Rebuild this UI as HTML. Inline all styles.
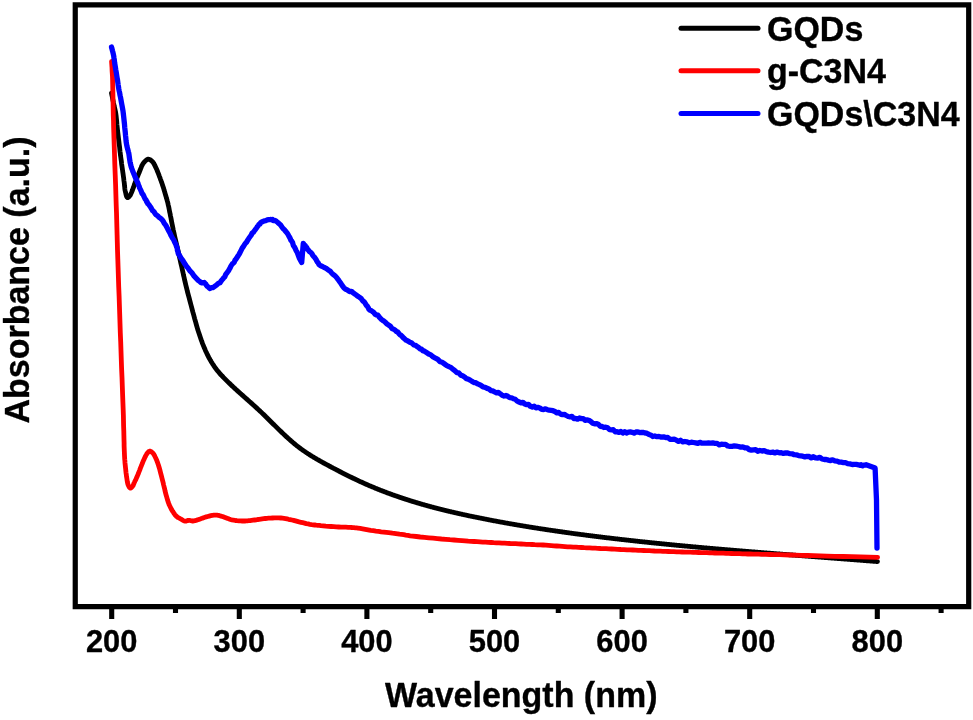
<!DOCTYPE html>
<html><head><meta charset="utf-8"><style>
html,body{margin:0;padding:0;background:#fff;}
body{width:973px;height:720px;overflow:hidden;}
svg{display:block;will-change:transform;}
text{stroke:#000;stroke-width:0.35px;stroke-linejoin:round;font-family:"Liberation Sans",sans-serif;font-weight:bold;}
</style></head><body>
<svg width="973" height="720" viewBox="0 0 973 720">
<rect width="973" height="720" fill="#fff"/>
<g fill="none" stroke-linejoin="round" stroke-linecap="round" stroke-width="4.8">
<polyline stroke="#000" points="111.5,93.0 111.8,94.7 112.2,96.3 112.5,98.0 112.8,99.7 113.2,101.3 113.5,103.0 113.9,104.6 114.2,106.2 114.6,107.8 115.0,109.5 115.4,111.2 115.7,113.0 116.1,115.6 116.4,118.4 116.7,121.3 116.9,124.2 117.2,127.2 117.5,130.0 117.8,132.6 118.1,135.1 118.4,137.6 118.7,140.1 119.0,142.6 119.3,145.0 119.6,147.1 119.8,149.3 120.0,151.3 120.3,153.4 120.5,155.4 120.8,157.5 121.1,159.6 121.4,161.7 121.6,163.8 121.9,165.8 122.2,167.9 122.5,170.0 122.8,172.1 123.1,174.2 123.4,176.4 123.7,178.5 123.9,180.5 124.2,182.5 124.4,184.1 124.5,185.6 124.7,187.1 124.8,188.5 125.0,189.9 125.3,191.3 125.6,192.5 125.9,193.9 126.2,195.2 126.6,196.4 127.0,197.2 127.5,197.6 127.9,197.6 128.3,197.4 128.7,197.0 129.2,196.5 129.6,196.0 130.0,195.5 130.5,194.8 130.9,193.9 131.3,193.0 131.7,192.1 132.1,191.0 132.5,190.0 133.0,188.6 133.6,187.1 134.1,185.5 134.7,183.9 135.2,182.3 135.8,180.8 136.3,179.4 136.9,178.0 137.5,176.6 138.0,175.3 138.6,173.9 139.2,172.5 139.8,170.9 140.4,169.3 141.1,167.6 141.7,166.0 142.5,164.6 143.3,163.3 144.0,162.4 144.9,161.4 145.7,160.6 146.6,159.9 147.5,159.4 148.3,159.2 149.0,159.3 149.8,159.5 150.5,160.0 151.2,160.5 151.9,161.1 152.5,161.7 153.2,162.5 153.7,163.4 154.3,164.3 154.8,165.4 155.3,166.4 155.8,167.5 156.4,168.8 157.0,170.1 157.5,171.5 158.1,172.9 158.7,174.4 159.2,175.8 159.8,177.3 160.3,178.8 160.9,180.3 161.4,181.9 162.0,183.4 162.5,185.0 163.1,186.8 163.7,188.6 164.2,190.5 164.8,192.3 165.3,194.1 165.8,195.8 166.2,197.1 166.5,198.3 166.9,199.5 167.2,200.7 167.6,201.9 167.9,203.3 168.3,205.2 168.8,207.3 169.2,209.4 169.6,211.6 170.1,213.8 170.5,216.0 171.0,218.3 171.4,220.5 171.8,222.8 172.3,225.1 172.8,227.5 173.3,230.0 174.0,233.1 174.7,236.4 175.5,239.8 176.3,243.2 177.1,246.6 177.9,250.0 178.7,253.4 179.4,256.8 180.2,260.2 180.9,263.5 181.7,266.8 182.4,270.0 183.0,272.6 183.5,275.1 184.1,277.5 184.6,279.9 185.2,282.4 185.8,285.0 186.6,288.2 187.4,291.5 188.3,294.8 189.2,298.2 190.1,301.6 191.0,305.0 191.9,308.4 192.8,311.9 193.8,315.4 194.7,318.8 195.6,321.9 196.4,324.9 196.9,326.7 197.4,328.4 197.9,330.0 198.4,331.6 198.9,333.1 199.4,334.6 199.9,336.1 200.4,337.5 200.9,339.0 201.4,340.4 201.9,341.7 202.4,343.1 202.9,344.4 203.4,345.6 203.9,346.8 204.4,348.0 204.9,349.2 205.4,350.4 205.9,351.5 206.4,352.5 206.9,353.6 207.4,354.6 207.9,355.6 208.4,356.6 208.9,357.6 209.4,358.5 209.9,359.4 210.4,360.3 210.9,361.1 211.4,362.0 211.9,362.8 212.4,363.6 212.9,364.3 213.4,365.1 213.9,365.9 214.4,366.6 214.9,367.3 215.4,368.0 215.9,368.6 216.4,369.3 216.9,370.0 217.4,370.6 217.9,371.2 218.4,371.8 218.9,372.4 219.4,373.0 219.9,373.6 220.4,374.2 220.9,374.7 221.4,375.2 221.9,375.8 222.4,376.3 222.9,376.8 223.4,377.4 223.9,377.9 224.4,378.4 224.9,378.9 225.4,379.4 225.9,379.9 226.4,380.4 226.9,380.9 227.4,381.4 227.9,381.9 228.4,382.4 228.9,382.9 229.4,383.3 229.9,383.8 230.4,384.3 230.9,384.8 231.4,385.2 231.9,385.7 232.4,386.2 232.9,386.6 233.4,387.1 233.9,387.6 234.4,388.0 234.9,388.5 235.4,389.0 235.9,389.4 236.4,389.9 236.9,390.3 237.4,390.8 237.9,391.2 238.4,391.7 238.9,392.1 239.4,392.6 239.9,393.0 240.4,393.5 240.9,393.9 241.4,394.4 241.9,394.8 242.4,395.2 242.9,395.7 243.4,396.1 243.9,396.6 244.4,397.0 244.9,397.5 245.4,397.9 245.9,398.4 246.4,398.8 246.9,399.2 247.4,399.7 247.9,400.1 248.4,400.6 248.9,401.0 249.4,401.5 249.9,401.9 250.4,402.3 250.9,402.8 251.4,403.2 251.9,403.7 252.4,404.1 252.9,404.6 253.4,405.0 253.9,405.5 254.4,405.9 254.9,406.4 255.4,406.8 255.9,407.3 256.4,407.7 256.9,408.2 257.4,408.7 257.9,409.1 258.4,409.6 258.9,410.1 259.4,410.5 259.9,411.0 260.4,411.5 260.9,411.9 261.4,412.4 261.9,412.9 262.4,413.4 262.9,413.9 263.4,414.3 263.9,414.8 264.4,415.3 264.9,415.8 265.4,416.3 265.9,416.8 266.4,417.2 266.9,417.7 267.4,418.2 267.9,418.7 268.4,419.2 268.9,419.7 269.4,420.2 269.9,420.7 270.4,421.2 270.9,421.7 271.4,422.2 271.9,422.7 272.4,423.2 272.9,423.7 273.4,424.2 273.9,424.7 274.4,425.1 274.9,425.6 275.4,426.1 275.9,426.6 276.4,427.1 276.9,427.6 277.4,428.1 277.9,428.6 278.4,429.1 278.9,429.6 279.4,430.1 279.9,430.6 280.4,431.0 280.9,431.5 281.4,432.0 281.9,432.5 282.4,433.0 282.9,433.4 283.4,433.9 283.9,434.4 284.4,434.9 284.9,435.3 285.4,435.8 285.9,436.3 286.4,436.7 286.9,437.2 287.4,437.6 287.9,438.1 288.4,438.5 288.9,439.0 289.4,439.4 289.9,439.9 290.4,440.3 290.9,440.8 291.4,441.2 291.9,441.6 292.4,442.1 292.9,442.5 293.4,442.9 293.9,443.3 294.4,443.7 294.9,444.2 295.4,444.6 295.9,445.0 296.4,445.4 296.9,445.8 297.4,446.2 297.9,446.5 298.4,446.9 298.9,447.3 299.4,447.7 299.9,448.1 300.4,448.4 300.9,448.8 301.4,449.2 301.9,449.5 302.4,449.9 302.9,450.3 303.4,450.6 303.9,451.0 304.4,451.3 304.9,451.6 305.4,452.0 305.9,452.3 306.4,452.7 306.9,453.0 307.4,453.3 307.9,453.7 308.4,454.0 308.9,454.3 309.4,454.6 309.9,454.9 310.4,455.3 310.9,455.6 311.4,455.9 311.9,456.2 312.4,456.5 312.9,456.8 313.4,457.1 313.9,457.4 314.4,457.7 314.9,458.0 315.4,458.3 315.9,458.6 316.4,458.9 316.9,459.2 317.4,459.5 317.9,459.8 318.4,460.1 318.9,460.3 319.4,460.6 319.9,460.9 320.4,461.2 320.9,461.5 321.4,461.8 321.9,462.0 322.4,462.3 322.9,462.6 323.4,462.9 323.9,463.1 324.4,463.4 324.9,463.7 325.4,463.9 325.9,464.2 326.4,464.5 326.9,464.8 327.4,465.0 327.9,465.3 328.4,465.6 328.9,465.8 329.4,466.1 329.9,466.4 330.4,466.6 330.9,466.9 331.4,467.2 331.9,467.4 332.4,467.7 332.9,468.0 333.4,468.2 333.9,468.5 334.4,468.8 334.9,469.0 335.4,469.3 335.9,469.5 336.4,469.8 336.9,470.1 337.4,470.3 337.9,470.6 338.4,470.8 338.9,471.1 339.4,471.4 339.9,471.6 340.4,471.9 340.9,472.1 341.4,472.4 341.9,472.7 342.4,472.9 342.9,473.2 343.4,473.4 343.9,473.7 344.4,473.9 344.9,474.2 345.4,474.4 345.9,474.7 346.4,474.9 346.9,475.2 347.4,475.4 347.9,475.7 348.4,475.9 348.9,476.2 349.4,476.4 349.9,476.7 350.4,476.9 350.9,477.1 351.4,477.4 351.9,477.6 352.4,477.9 352.9,478.1 353.4,478.4 353.9,478.6 354.4,478.8 354.9,479.1 355.4,479.3 355.9,479.6 356.4,479.8 356.9,480.0 357.4,480.3 357.9,480.5 358.4,480.7 358.9,481.0 359.4,481.2 359.9,481.4 360.4,481.7 360.9,481.9 361.4,482.1 361.9,482.3 362.4,482.6 362.9,482.8 363.4,483.0 363.9,483.2 364.4,483.5 364.9,483.7 365.4,483.9 365.9,484.1 366.4,484.4 366.9,484.6 367.4,484.8 367.9,485.0 368.4,485.2 368.9,485.4 369.4,485.7 369.9,485.9 370.4,486.1 370.9,486.3 371.4,486.5 371.9,486.7 372.4,486.9 372.9,487.1 373.4,487.3 373.9,487.5 374.4,487.8 374.9,488.0 375.4,488.2 375.9,488.4 376.4,488.6 376.9,488.8 377.4,489.0 377.9,489.2 378.4,489.4 378.9,489.6 379.4,489.8 379.9,490.0 380.4,490.2 380.9,490.4 381.4,490.6 381.9,490.8 382.4,491.0 382.9,491.2 383.4,491.3 383.9,491.5 384.4,491.7 384.9,491.9 385.4,492.1 385.9,492.3 386.4,492.5 386.9,492.7 387.4,492.9 387.9,493.1 388.4,493.2 388.9,493.4 389.4,493.6 389.9,493.8 390.4,494.0 390.9,494.2 391.4,494.3 391.9,494.5 392.4,494.7 392.9,494.9 393.4,495.1 393.9,495.2 394.4,495.4 394.9,495.6 395.4,495.8 395.9,495.9 396.4,496.1 396.9,496.3 397.4,496.5 397.9,496.6 398.4,496.8 398.9,497.0 399.4,497.2 399.9,497.3 400.4,497.5 400.9,497.7 401.4,497.8 401.9,498.0 402.4,498.2 402.9,498.3 403.4,498.5 403.9,498.7 404.4,498.8 404.9,499.0 405.4,499.2 405.9,499.3 406.4,499.5 406.9,499.6 407.4,499.8 407.9,500.0 408.4,500.1 408.9,500.3 409.4,500.4 409.9,500.6 410.4,500.8 410.9,500.9 411.4,501.1 411.9,501.2 412.4,501.4 412.9,501.5 413.4,501.7 413.9,501.8 414.4,502.0 414.9,502.1 415.4,502.3 415.9,502.5 416.4,502.6 416.9,502.7 417.4,502.9 417.9,503.0 418.4,503.2 418.9,503.3 419.4,503.5 419.9,503.6 420.4,503.8 420.9,503.9 421.4,504.1 421.9,504.2 422.4,504.4 422.9,504.5 423.4,504.6 423.9,504.8 424.4,504.9 424.9,505.1 425.4,505.2 425.9,505.3 426.4,505.5 426.9,505.6 427.4,505.8 427.9,505.9 428.4,506.0 428.9,506.2 429.4,506.3 429.9,506.5 430.4,506.6 430.9,506.7 431.4,506.9 431.9,507.0 432.4,507.1 432.9,507.3 433.4,507.4 433.9,507.5 434.4,507.7 434.9,507.8 435.4,507.9 435.9,508.0 436.4,508.2 436.9,508.3 437.4,508.4 437.9,508.6 438.4,508.7 438.9,508.8 439.4,508.9 439.9,509.1 440.4,509.2 440.9,509.3 441.4,509.4 441.9,509.6 442.4,509.7 442.9,509.8 443.4,509.9 443.9,510.1 444.4,510.2 444.9,510.3 445.4,510.4 445.9,510.6 446.4,510.7 446.9,510.8 447.4,510.9 447.9,511.0 448.4,511.2 448.9,511.3 449.4,511.4 449.9,511.5 450.4,511.6 450.9,511.8 451.4,511.9 451.9,512.0 452.4,512.1 452.9,512.2 453.4,512.3 453.9,512.5 454.4,512.6 454.9,512.7 455.4,512.8 455.9,512.9 456.4,513.0 456.9,513.1 457.4,513.2 457.9,513.4 458.4,513.5 458.9,513.6 459.4,513.7 459.9,513.8 460.4,513.9 460.9,514.0 461.4,514.1 461.9,514.3 462.4,514.4 462.9,514.5 463.4,514.6 463.9,514.7 464.4,514.8 464.9,514.9 465.4,515.0 465.9,515.1 466.4,515.2 466.9,515.3 467.4,515.4 467.9,515.6 468.4,515.7 468.9,515.8 469.4,515.9 469.9,516.0 470.4,516.1 470.9,516.2 471.4,516.3 471.9,516.4 472.4,516.5 472.9,516.6 473.4,516.7 473.9,516.8 474.4,516.9 474.9,517.0 475.4,517.1 475.9,517.2 476.4,517.3 476.9,517.4 477.4,517.5 477.9,517.6 478.4,517.7 478.9,517.8 479.4,517.9 479.9,518.0 480.4,518.1 480.9,518.2 481.4,518.3 481.9,518.4 482.4,518.5 482.9,518.6 483.4,518.7 483.9,518.8 484.4,518.9 484.9,519.0 485.4,519.1 485.9,519.2 486.4,519.3 486.9,519.4 487.4,519.5 487.9,519.6 488.4,519.7 488.9,519.8 489.4,519.9 489.9,520.0 490.4,520.1 490.9,520.2 491.4,520.3 491.9,520.4 492.4,520.5 492.9,520.6 493.4,520.7 493.9,520.8 494.4,520.8 494.9,520.9 495.4,521.0 495.9,521.1 496.4,521.2 496.9,521.3 497.4,521.4 497.9,521.5 498.4,521.6 498.9,521.7 499.4,521.8 499.9,521.9 500.4,522.0 500.9,522.1 501.4,522.1 501.9,522.2 502.4,522.3 502.9,522.4 503.4,522.5 503.9,522.6 504.4,522.7 504.9,522.8 505.4,522.9 505.9,523.0 506.4,523.1 506.9,523.1 507.4,523.2 507.9,523.3 508.4,523.4 508.9,523.5 509.4,523.6 509.9,523.7 510.4,523.8 510.9,523.8 511.4,523.9 511.9,524.0 512.4,524.1 512.9,524.2 513.4,524.3 513.9,524.4 514.4,524.5 514.9,524.5 515.4,524.6 515.9,524.7 516.4,524.8 516.9,524.9 517.4,525.0 517.9,525.1 518.4,525.1 518.9,525.2 519.4,525.3 519.9,525.4 520.4,525.5 520.9,525.6 521.4,525.6 521.9,525.7 522.4,525.8 522.9,525.9 523.4,526.0 523.9,526.1 524.4,526.1 524.9,526.2 525.4,526.3 525.9,526.4 526.4,526.5 526.9,526.6 527.4,526.6 527.9,526.7 528.4,526.8 528.9,526.9 529.4,527.0 529.9,527.1 530.4,527.1 530.9,527.2 531.4,527.3 531.9,527.4 532.4,527.5 532.9,527.5 533.4,527.6 533.9,527.7 534.4,527.8 534.9,527.9 535.4,527.9 535.9,528.0 536.4,528.1 536.9,528.2 537.4,528.2 537.9,528.3 538.4,528.4 538.9,528.5 539.4,528.6 539.9,528.6 540.4,528.7 540.9,528.8 541.4,528.9 541.9,528.9 542.4,529.0 542.9,529.1 543.4,529.2 543.9,529.2 544.4,529.3 544.9,529.4 545.4,529.5 545.9,529.5 546.4,529.6 546.9,529.7 547.4,529.8 547.9,529.8 548.4,529.9 548.9,530.0 549.4,530.1 549.9,530.1 550.4,530.2 550.9,530.3 551.4,530.4 551.9,530.4 552.4,530.5 552.9,530.6 553.4,530.7 553.9,530.7 554.4,530.8 554.9,530.9 555.4,531.0 555.9,531.0 556.4,531.1 556.9,531.2 557.4,531.2 557.9,531.3 558.4,531.4 558.9,531.5 559.4,531.5 559.9,531.6 560.4,531.7 560.9,531.7 561.4,531.8 561.9,531.9 562.4,532.0 562.9,532.0 563.4,532.1 563.9,532.2 564.4,532.2 564.9,532.3 565.4,532.4 565.9,532.5 566.4,532.5 566.9,532.6 567.4,532.7 567.9,532.7 568.4,532.8 568.9,532.9 569.4,532.9 569.9,533.0 570.4,533.1 570.9,533.1 571.4,533.2 571.9,533.3 572.4,533.3 572.9,533.4 573.4,533.5 573.9,533.6 574.4,533.6 574.9,533.7 575.4,533.8 575.9,533.8 576.4,533.9 576.9,534.0 577.4,534.0 577.9,534.1 578.4,534.2 578.9,534.2 579.4,534.3 579.9,534.4 580.4,534.4 580.9,534.5 581.4,534.6 581.9,534.6 582.4,534.7 582.9,534.7 583.4,534.8 583.9,534.9 584.4,534.9 584.9,535.0 585.4,535.1 585.9,535.1 586.4,535.2 586.9,535.3 587.4,535.3 587.9,535.4 588.4,535.5 588.9,535.5 589.4,535.6 589.9,535.7 590.4,535.7 590.9,535.8 591.4,535.8 591.9,535.9 592.4,536.0 592.9,536.0 593.4,536.1 593.9,536.2 594.4,536.2 594.9,536.3 595.4,536.4 595.9,536.4 596.4,536.5 596.9,536.5 597.4,536.6 597.9,536.7 598.4,536.7 598.9,536.8 599.4,536.8 599.9,536.9 600.4,537.0 600.9,537.0 601.4,537.1 601.9,537.2 602.4,537.2 602.9,537.3 603.4,537.3 603.9,537.4 604.4,537.5 604.9,537.5 605.4,537.6 605.9,537.6 606.4,537.7 606.9,537.8 607.4,537.8 607.9,537.9 608.4,537.9 608.9,538.0 609.4,538.0 609.9,538.1 610.4,538.2 610.9,538.2 611.4,538.3 611.9,538.4 612.4,538.4 612.9,538.5 613.4,538.5 613.9,538.6 614.4,538.6 614.9,538.7 615.4,538.8 615.9,538.8 616.4,538.9 616.9,538.9 617.4,539.0 617.9,539.0 618.4,539.1 618.9,539.2 619.4,539.2 619.9,539.3 620.4,539.3 620.9,539.4 621.4,539.5 621.9,539.5 622.4,539.6 622.9,539.6 623.4,539.7 623.9,539.7 624.4,539.8 624.9,539.9 625.4,539.9 625.9,540.0 626.4,540.0 626.9,540.1 627.4,540.1 627.9,540.2 628.4,540.2 628.9,540.3 629.4,540.4 629.9,540.4 630.4,540.5 630.9,540.5 631.4,540.6 631.9,540.6 632.4,540.7 632.9,540.7 633.4,540.8 633.9,540.9 634.4,540.9 634.9,541.0 635.4,541.0 635.9,541.1 636.4,541.1 636.9,541.2 637.4,541.2 637.9,541.3 638.4,541.3 638.9,541.4 639.4,541.5 639.9,541.5 640.4,541.6 640.9,541.6 641.4,541.7 641.9,541.7 642.4,541.8 642.9,541.8 643.4,541.9 643.9,541.9 644.4,542.0 644.9,542.0 645.4,542.1 645.9,542.1 646.4,542.2 646.9,542.2 647.4,542.3 647.9,542.4 648.4,542.4 648.9,542.5 649.4,542.5 649.9,542.6 650.4,542.6 650.9,542.7 651.4,542.7 651.9,542.8 652.4,542.8 652.9,542.9 653.4,542.9 653.9,543.0 654.4,543.0 654.9,543.1 655.4,543.1 655.9,543.2 656.4,543.2 656.9,543.3 657.4,543.3 657.9,543.4 658.4,543.4 658.9,543.5 659.4,543.5 659.9,543.6 660.4,543.6 660.9,543.7 661.4,543.7 661.9,543.8 662.4,543.8 662.9,543.9 663.4,543.9 663.9,544.0 664.4,544.0 664.9,544.1 665.4,544.1 665.9,544.2 666.4,544.2 666.9,544.3 667.4,544.3 667.9,544.4 668.4,544.4 668.9,544.5 669.4,544.5 669.9,544.6 670.4,544.6 670.9,544.7 671.4,544.7 671.9,544.8 672.4,544.8 672.9,544.9 673.4,544.9 673.9,545.0 674.4,545.0 674.9,545.1 675.4,545.1 675.9,545.2 676.4,545.2 676.9,545.3 677.4,545.3 677.9,545.4 678.4,545.4 678.9,545.5 679.4,545.5 679.9,545.5 680.4,545.6 680.9,545.6 681.4,545.7 681.9,545.7 682.4,545.8 682.9,545.8 683.4,545.9 683.9,545.9 684.4,546.0 684.9,546.0 685.4,546.1 685.9,546.1 686.4,546.2 686.9,546.2 687.4,546.2 687.9,546.3 688.4,546.3 688.9,546.4 689.4,546.4 689.9,546.5 690.4,546.5 690.9,546.6 691.4,546.6 691.9,546.7 692.4,546.7 692.9,546.8 693.4,546.8 693.9,546.9 694.4,546.9 694.9,546.9 695.4,547.0 695.9,547.0 696.4,547.1 696.9,547.1 697.4,547.2 697.9,547.2 698.4,547.3 698.9,547.3 699.4,547.4 699.9,547.4 700.4,547.4 700.9,547.5 701.4,547.5 701.9,547.6 702.4,547.6 702.9,547.7 703.4,547.7 703.9,547.8 704.4,547.8 704.9,547.8 705.4,547.9 705.9,547.9 706.4,548.0 706.9,548.0 707.4,548.1 707.9,548.1 708.4,548.2 708.9,548.2 709.4,548.2 709.9,548.3 710.4,548.3 710.9,548.4 711.4,548.4 711.9,548.5 712.4,548.5 712.9,548.5 713.4,548.6 713.9,548.6 714.4,548.7 714.9,548.7 715.4,548.8 715.9,548.8 716.4,548.8 716.9,548.9 717.4,548.9 717.9,549.0 718.4,549.0 718.9,549.1 719.4,549.1 719.9,549.1 720.4,549.2 720.9,549.2 721.4,549.3 721.9,549.3 722.4,549.4 722.9,549.4 723.4,549.5 723.9,549.5 724.4,549.5 724.9,549.6 725.4,549.6 725.9,549.7 726.4,549.7 726.9,549.7 727.4,549.8 727.9,549.8 728.4,549.9 728.9,549.9 729.4,550.0 729.9,550.0 730.4,550.0 730.9,550.1 731.4,550.1 731.9,550.2 732.4,550.2 732.9,550.2 733.4,550.3 733.9,550.3 734.4,550.4 734.9,550.4 735.4,550.5 735.9,550.5 736.4,550.5 736.9,550.6 737.4,550.6 737.9,550.7 738.4,550.7 738.9,550.7 739.4,550.8 739.9,550.8 740.4,550.9 740.9,550.9 741.4,551.0 741.9,551.0 742.4,551.0 742.9,551.1 743.4,551.1 743.9,551.2 744.4,551.2 744.9,551.2 745.4,551.3 745.9,551.3 746.4,551.4 746.9,551.4 747.4,551.4 747.9,551.5 748.4,551.5 748.9,551.6 749.4,551.6 749.9,551.7 750.4,551.7 750.9,551.7 751.4,551.8 751.9,551.8 752.4,551.9 752.9,551.9 753.4,551.9 753.9,552.0 754.4,552.0 754.9,552.0 755.4,552.1 755.9,552.1 756.4,552.2 756.9,552.2 757.4,552.2 757.9,552.3 758.4,552.3 758.9,552.4 759.4,552.4 759.9,552.5 760.4,552.5 760.9,552.5 761.4,552.6 761.9,552.6 762.4,552.7 762.9,552.7 763.4,552.7 763.9,552.8 764.4,552.8 764.9,552.9 765.4,552.9 765.9,552.9 766.4,553.0 766.9,553.0 767.4,553.1 767.9,553.1 768.4,553.1 768.9,553.2 769.4,553.2 769.9,553.2 770.4,553.3 770.9,553.3 771.4,553.4 771.9,553.4 772.4,553.4 772.9,553.5 773.4,553.5 773.9,553.6 774.4,553.6 774.9,553.6 775.4,553.7 775.9,553.7 776.4,553.8 776.9,553.8 777.4,553.8 777.9,553.9 778.4,553.9 778.9,553.9 779.4,554.0 779.9,554.0 780.4,554.1 780.9,554.1 781.4,554.1 781.9,554.2 782.4,554.2 782.9,554.3 783.4,554.3 783.9,554.3 784.4,554.4 784.9,554.4 785.4,554.5 785.9,554.5 786.4,554.5 786.9,554.6 787.4,554.6 787.9,554.6 788.4,554.7 788.9,554.7 789.4,554.8 789.9,554.8 790.4,554.8 790.9,554.9 791.4,554.9 791.9,555.0 792.4,555.0 792.9,555.0 793.4,555.1 793.9,555.1 794.4,555.2 794.9,555.2 795.4,555.2 795.9,555.3 796.4,555.3 796.9,555.3 797.4,555.4 797.9,555.4 798.4,555.5 798.9,555.5 799.4,555.5 799.9,555.6 800.4,555.6 800.9,555.7 801.4,555.7 801.9,555.7 802.4,555.8 802.9,555.8 803.4,555.8 803.9,555.9 804.4,555.9 804.9,556.0 805.4,556.0 805.9,556.0 806.4,556.1 806.9,556.1 807.4,556.2 807.9,556.2 808.4,556.2 808.9,556.3 809.4,556.3 809.9,556.3 810.4,556.4 810.9,556.4 811.4,556.5 811.9,556.5 812.4,556.5 812.9,556.6 813.4,556.6 813.9,556.7 814.4,556.7 814.9,556.7 815.4,556.8 815.9,556.8 816.4,556.8 816.9,556.9 817.4,556.9 817.9,557.0 818.4,557.0 818.9,557.0 819.4,557.1 819.9,557.1 820.4,557.1 820.9,557.2 821.4,557.2 821.9,557.3 822.4,557.3 822.9,557.3 823.4,557.4 823.9,557.4 824.4,557.5 824.9,557.5 825.4,557.5 825.9,557.6 826.4,557.6 826.9,557.6 827.4,557.7 827.9,557.7 828.4,557.8 828.9,557.8 829.4,557.8 829.9,557.9 830.4,557.9 830.9,558.0 831.4,558.0 831.9,558.0 832.4,558.1 832.9,558.1 833.4,558.1 833.9,558.2 834.4,558.2 834.9,558.3 835.4,558.3 835.9,558.3 836.4,558.4 836.9,558.4 837.4,558.5 837.9,558.5 838.4,558.5 838.9,558.6 839.4,558.6 839.9,558.6 840.4,558.7 840.9,558.7 841.4,558.8 841.9,558.8 842.4,558.8 842.9,558.9 843.4,558.9 843.9,559.0 844.4,559.0 844.9,559.0 845.4,559.1 845.9,559.1 846.4,559.2 846.9,559.2 847.4,559.2 847.9,559.3 848.4,559.3 848.9,559.3 849.4,559.4 849.9,559.4 850.4,559.5 850.9,559.5 851.4,559.5 851.9,559.6 852.4,559.6 852.9,559.7 853.4,559.7 853.9,559.7 854.4,559.8 854.9,559.8 855.4,559.9 855.9,559.9 856.4,559.9 856.9,560.0 857.4,560.0 857.9,560.0 858.4,560.1 858.9,560.1 859.4,560.2 859.9,560.2 860.4,560.2 860.9,560.3 861.4,560.3 861.9,560.4 862.4,560.4 862.9,560.4 863.4,560.5 863.9,560.5 864.4,560.6 864.9,560.6 865.4,560.6 865.9,560.7 866.4,560.7 866.9,560.8 867.4,560.8 867.9,560.8 868.4,560.9 868.9,560.9 869.4,560.9 869.9,561.0 870.4,561.0 870.9,561.1 871.4,561.1 871.9,561.2 872.4,561.2 872.9,561.2 873.4,561.3 873.9,561.3 874.4,561.4 874.9,561.4 875.6,561.4 876.2,561.5 876.7,561.5 877.1,561.6 877.4,561.6 877.4,561.6 877.4,561.6 877.5,561.6 877.5,561.6 877.5,561.6 877.5,561.6"/>
<polyline stroke="#f00" points="111.6,61.5 111.8,64.5 112.0,67.5 112.1,70.5 112.3,73.5 112.5,76.7 112.6,80.0 112.7,84.6 112.8,89.4 112.9,94.4 113.0,99.6 113.1,104.8 113.2,110.0 113.3,115.6 113.5,121.1 113.6,126.7 113.8,132.5 114.0,138.6 114.2,145.0 114.5,154.2 114.8,164.1 115.2,174.5 115.6,185.0 115.9,195.3 116.2,205.0 116.5,212.8 116.7,220.3 116.9,227.6 117.1,234.9 117.3,242.3 117.5,250.0 117.8,258.8 118.1,267.9 118.4,277.2 118.7,286.5 119.1,295.8 119.4,305.0 119.7,314.2 120.0,323.4 120.3,332.7 120.7,341.9 121.0,351.0 121.3,360.0 121.6,368.6 122.0,377.3 122.3,385.9 122.6,394.4 122.9,402.4 123.2,410.0 123.4,415.6 123.5,420.9 123.6,426.1 123.8,431.0 123.9,435.7 124.0,440.0 124.1,442.9 124.1,445.6 124.2,448.1 124.3,450.6 124.4,452.9 124.5,455.3 124.6,457.3 124.7,459.2 124.9,461.1 125.0,463.0 125.2,464.8 125.4,466.7 125.6,468.6 125.8,470.6 126.0,472.6 126.3,474.6 126.5,476.4 126.8,478.2 127.0,479.5 127.2,480.8 127.4,482.1 127.7,483.3 127.9,484.4 128.3,485.3 128.6,485.9 128.9,486.5 129.2,487.1 129.6,487.5 129.9,487.8 130.3,488.0 130.6,488.0 131.0,487.8 131.4,487.6 131.7,487.2 132.1,486.9 132.4,486.5 132.8,485.9 133.2,485.3 133.5,484.5 133.8,483.8 134.1,483.0 134.5,482.2 134.9,481.3 135.3,480.5 135.8,479.6 136.2,478.6 136.6,477.6 137.1,476.6 137.7,475.1 138.4,473.5 139.0,471.8 139.7,470.1 140.3,468.4 141.0,466.7 141.6,465.1 142.3,463.5 142.9,461.9 143.5,460.4 144.2,458.9 144.8,457.6 145.3,456.7 145.7,455.8 146.1,455.0 146.6,454.2 147.0,453.5 147.5,452.9 147.9,452.5 148.2,452.1 148.6,451.8 148.9,451.5 149.3,451.3 149.7,451.2 150.1,451.2 150.5,451.3 150.9,451.5 151.3,451.8 151.6,452.0 152.0,452.3 152.3,452.6 152.7,452.9 153.0,453.2 153.3,453.6 153.6,454.0 153.9,454.5 154.5,455.5 155.1,456.8 155.8,458.2 156.5,459.7 157.1,461.3 157.7,462.9 158.4,465.0 159.1,467.3 159.8,469.7 160.4,472.1 161.0,474.4 161.6,476.6 162.0,478.3 162.4,479.9 162.8,481.4 163.2,482.9 163.5,484.5 163.9,486.0 164.3,487.6 164.7,489.1 165.0,490.7 165.4,492.3 165.8,493.8 166.2,495.3 166.6,496.7 167.0,498.1 167.4,499.5 167.8,500.8 168.2,502.2 168.7,503.5 169.2,504.8 169.8,506.0 170.4,507.2 171.0,508.4 171.6,509.6 172.3,510.7 172.9,511.7 173.6,512.7 174.2,513.7 174.9,514.7 175.7,515.5 176.4,516.3 177.1,516.8 177.7,517.3 178.4,517.7 179.2,518.1 179.9,518.5 180.6,518.9 181.4,519.3 182.1,519.8 182.9,520.3 183.7,520.7 184.5,521.0 185.2,521.2 185.8,521.2 186.4,521.0 187.0,520.8 187.6,520.6 188.2,520.4 188.8,520.3 189.5,520.3 190.1,520.5 190.8,520.7 191.5,520.8 192.2,521.0 192.9,521.0 193.8,520.9 194.8,520.7 195.9,520.4 196.9,520.1 197.9,519.7 199.0,519.4 200.2,519.0 201.3,518.6 202.5,518.1 203.7,517.7 204.9,517.3 206.2,516.9 207.7,516.5 209.2,516.1 210.8,515.7 212.4,515.4 214.0,515.2 215.5,515.1 216.9,515.2 218.3,515.4 219.6,515.7 221.0,516.1 222.3,516.5 223.7,516.9 225.1,517.4 226.4,517.9 227.7,518.4 229.1,519.0 230.5,519.5 231.9,519.9 233.6,520.2 235.3,520.5 237.0,520.7 238.8,520.8 240.5,520.9 242.2,521.0 243.6,521.0 244.9,521.0 246.1,520.9 247.4,520.8 248.7,520.7 250.0,520.6 251.5,520.4 253.0,520.2 254.6,520.0 256.1,519.8 257.7,519.5 259.2,519.3 260.7,519.1 262.2,518.9 263.8,518.7 265.3,518.5 266.9,518.3 268.5,518.2 270.5,518.1 272.5,518.0 274.7,517.9 276.8,517.9 278.8,517.9 280.8,518.0 282.4,518.2 284.0,518.4 285.5,518.6 287.0,518.9 288.5,519.3 290.1,519.6 291.9,520.0 293.6,520.4 295.5,520.9 297.3,521.4 299.1,521.9 300.9,522.3 302.7,522.7 304.5,523.1 306.3,523.6 308.2,523.9 309.9,524.3 311.7,524.6 313.2,524.8 314.7,525.0 316.2,525.2 317.7,525.3 319.2,525.4 320.9,525.6 323.2,525.8 325.8,526.1 328.4,526.3 331.1,526.5 333.7,526.7 336.3,526.9 338.7,527.0 341.1,527.1 343.5,527.2 345.9,527.2 348.1,527.3 350.2,527.4 351.6,527.5 352.8,527.6 354.0,527.7 355.2,527.8 356.5,527.9 357.9,528.1 360.2,528.4 362.6,528.8 365.3,529.3 368.0,529.8 370.7,530.3 373.3,530.7 375.9,531.1 378.5,531.4 381.2,531.8 383.8,532.1 386.3,532.4 388.7,532.7 390.6,532.9 392.4,533.2 394.2,533.4 395.9,533.6 397.7,533.8 399.5,534.1 401.6,534.4 403.7,534.7 405.8,535.1 407.9,535.4 410.2,535.8 412.7,536.1 416.4,536.5 420.3,537.0 424.5,537.4 428.8,537.8 433.1,538.2 437.3,538.6 441.5,539.0 445.7,539.3 449.9,539.7 454.1,540.0 458.1,540.3 462.0,540.6 465.2,540.8 468.2,541.1 471.2,541.3 474.2,541.5 477.1,541.7 480.0,541.9 482.8,542.1 485.5,542.2 488.2,542.4 491.0,542.5 493.7,542.7 496.4,542.8 499.1,542.9 501.9,543.1 504.6,543.2 507.4,543.3 510.2,543.5 512.9,543.6 515.6,543.7 518.4,543.9 521.1,544.0 523.8,544.1 526.6,544.3 529.3,544.4 532.0,544.5 534.8,544.7 537.6,544.8 540.3,544.9 543.1,545.0 545.8,545.2 548.5,545.4 551.3,545.6 554.0,545.8 556.7,546.0 559.5,546.2 562.2,546.4 564.9,546.6 567.7,546.8 570.4,546.9 573.2,547.1 576.0,547.2 578.7,547.4 581.4,547.5 584.2,547.7 586.9,547.8 589.6,547.9 592.4,548.1 595.1,548.2 597.8,548.3 600.6,548.5 603.3,548.6 606.0,548.7 608.8,548.9 611.6,549.0 614.6,549.1 617.7,549.3 620.8,549.5 623.9,549.6 627.0,549.8 630.0,549.9 632.8,550.0 635.5,550.1 638.3,550.3 641.0,550.4 643.7,550.5 646.4,550.6 649.1,550.7 651.9,550.8 654.6,551.0 657.4,551.1 660.2,551.2 662.9,551.3 665.6,551.4 668.4,551.5 671.1,551.6 673.8,551.7 676.6,551.8 679.3,551.9 682.0,552.0 684.8,552.1 687.5,552.2 690.3,552.2 693.1,552.3 695.8,552.4 698.5,552.5 701.3,552.6 704.0,552.6 706.7,552.7 709.5,552.8 712.2,552.9 714.9,553.0 717.7,553.1 720.5,553.2 723.2,553.2 726.0,553.3 728.7,553.4 731.4,553.5 734.2,553.6 736.9,553.7 739.6,553.7 742.4,553.8 745.1,553.9 747.8,554.0 750.4,554.0 753.1,554.1 755.8,554.2 758.6,554.2 761.6,554.3 765.8,554.4 770.2,554.5 774.8,554.6 779.6,554.7 784.5,554.9 789.5,555.0 795.3,555.2 801.3,555.3 807.5,555.5 813.7,555.7 820.2,555.9 826.8,556.1 834.8,556.3 843.2,556.5 851.7,556.7 860.4,556.9 869.0,557.1 877.6,557.3"/>
<polyline stroke="#00f" stroke-width="5.3" points="111.5,47.0 111.8,48.3 112.2,49.6 112.5,50.9 112.9,52.3 113.2,53.6 113.5,55.0 113.8,56.6 114.0,58.2 114.3,59.8 114.5,61.5 114.7,63.2 115.0,65.0 115.4,67.4 115.8,70.0 116.3,72.7 116.7,75.3 117.1,77.8 117.5,80.0 117.7,81.3 117.8,82.4 118.0,83.5 118.1,84.6 118.3,85.7 118.5,87.0 118.8,88.9 119.2,91.0 119.7,93.2 120.1,95.5 120.6,97.8 121.0,100.0 121.4,102.2 121.8,104.4 122.2,106.5 122.6,108.7 123.0,111.0 123.3,113.3 123.6,116.0 123.9,118.8 124.2,121.6 124.5,124.4 124.7,127.2 125.0,130.0 125.3,132.6 125.5,135.2 125.8,137.8 126.0,140.4 126.3,142.8 126.7,145.0 127.0,146.5 127.4,148.0 127.7,149.3 128.1,150.6 128.4,151.9 128.8,153.3 129.0,154.7 129.2,156.1 129.4,157.6 129.6,159.0 129.8,160.4 130.0,161.7 130.2,162.8 130.5,163.9 130.7,165.0 131.0,166.1 131.3,167.2 131.7,168.3 132.2,169.7 132.7,171.1 133.3,172.5 133.9,174.0 134.5,175.4 135.0,176.7 135.4,177.5 135.8,178.3 136.2,179.8 136.7,180.1 137.1,181.5 137.5,182.4 138.0,183.3 138.5,185.2 139.1,186.1 139.6,188.0 140.2,189.0 140.8,190.3 141.5,192.0 142.1,193.7 142.9,194.2 143.6,195.6 144.3,197.2 145.0,198.8 145.6,199.4 146.1,200.2 146.6,201.8 147.1,201.7 147.7,203.6 148.3,204.0 149.2,205.2 150.3,206.7 151.4,208.5 152.6,210.6 153.8,211.5 155.0,213.4 156.3,214.9 157.7,215.9 159.2,217.5 160.6,218.3 162.0,219.7 163.3,221.4 164.5,223.7 165.7,225.2 166.8,227.1 167.9,229.3 168.9,231.2 170.0,233.1 171.2,235.8 172.5,238.1 173.7,239.9 174.9,242.6 175.9,244.7 176.7,247.1 177.1,248.1 177.3,248.7 177.4,250.5 177.6,250.6 177.9,252.0 178.3,253.6 179.4,255.1 180.9,258.0 182.6,260.1 184.5,263.4 186.4,266.1 188.3,268.4 190.2,271.2 192.2,273.2 194.2,276.2 196.3,278.4 198.2,280.4 200.0,281.7 200.9,282.5 201.8,282.9 202.6,282.6 203.4,282.9 204.2,282.5 205.0,283.5 205.9,284.2 206.6,285.6 207.4,286.5 208.2,286.9 209.0,287.8 210.0,288.5 211.5,287.6 213.2,287.5 215.0,286.1 216.8,284.8 218.5,283.3 220.0,282.8 221.3,280.8 222.5,279.4 223.6,278.0 224.7,276.9 225.7,274.4 226.7,273.2 227.6,271.9 228.4,270.9 229.2,269.4 230.0,268.1 230.9,266.1 231.7,264.9 232.5,263.7 233.3,263.2 234.2,262.2 235.0,260.3 235.9,259.2 236.7,258.0 237.8,256.3 238.9,254.6 240.0,252.7 241.1,250.4 242.2,248.1 243.3,246.6 244.4,244.8 245.5,243.3 246.6,242.1 247.7,240.2 248.9,238.3 250.0,236.8 251.1,235.3 252.2,233.0 253.4,232.3 254.5,230.6 255.6,229.3 256.7,227.8 257.5,226.4 258.3,225.5 259.1,224.3 259.9,224.0 260.7,222.7 261.7,222.0 262.9,221.5 264.3,220.9 265.8,220.6 267.3,219.9 268.7,219.6 270.0,219.6 270.9,219.5 271.7,219.8 272.5,219.5 273.3,220.6 274.2,220.6 275.0,220.4 276.3,221.3 277.8,222.5 279.2,223.8 280.6,225.0 282.0,227.2 283.3,228.8 284.5,229.8 285.7,231.4 286.9,232.7 288.0,234.4 289.0,236.4 290.0,238.0 290.9,240.3 291.8,241.2 292.6,242.6 293.3,245.3 294.1,246.6 295.0,247.9 296.1,250.6 297.2,252.3 298.3,255.3 299.4,258.2 300.6,260.5 301.7,262.5 301.7,262.5 303.3,243.3 304.1,244.7 304.9,245.2 305.7,246.5 306.6,247.4 307.4,249.2 308.3,250.0 309.4,251.6 310.5,252.3 311.7,253.4 312.8,255.3 314.0,256.8 315.0,257.9 315.9,259.2 316.6,260.7 317.4,262.0 318.1,262.8 319.0,264.5 320.0,265.4 321.3,266.0 322.8,266.7 324.3,267.6 325.9,268.2 327.5,269.4 328.9,270.5 330.1,270.9 331.2,272.5 332.3,273.6 333.4,274.7 334.5,275.3 335.6,276.4 337.2,278.3 338.8,280.4 340.4,282.7 342.1,285.4 343.8,287.7 345.6,289.3 347.0,289.8 348.5,290.8 350.0,291.6 351.5,291.3 352.9,292.6 354.4,293.8 356.1,294.9 357.9,296.3 359.6,297.4 361.3,298.7 362.9,301.0 364.4,302.0 365.5,303.9 366.4,305.4 367.2,306.1 368.1,307.4 369.0,309.4 370.0,310.3 371.2,310.6 372.4,311.5 373.7,312.4 375.0,314.1 376.4,314.9 377.8,315.2 379.6,317.5 381.4,319.4 383.3,320.7 385.2,322.1 387.1,324.1 388.9,325.2 390.4,326.2 392.0,328.5 393.5,329.2 395.0,330.0 396.4,331.6 397.8,332.1 399.0,333.7 400.0,334.8 401.0,335.2 402.1,336.4 403.2,337.6 404.4,338.6 406.1,340.2 407.9,341.0 409.9,342.3 411.8,343.0 413.8,345.0 415.6,345.4 417.1,346.5 418.6,347.5 420.0,348.8 421.4,349.1 422.8,350.6 424.4,351.1 426.5,352.5 428.7,354.0 430.9,354.9 433.2,356.9 435.5,358.2 437.8,359.4 440.0,361.7 442.3,362.3 444.6,364.0 446.8,365.6 449.0,366.7 451.2,367.7 453.2,369.4 455.1,370.9 456.9,372.7 458.8,372.9 460.7,375.1 462.6,375.7 464.5,376.9 466.3,378.7 468.2,379.1 470.1,380.1 472.0,381.4 473.9,382.5 475.8,382.7 477.7,383.9 479.5,384.7 481.4,385.7 483.3,387.0 485.2,387.4 487.1,388.4 489.0,389.0 490.8,390.6 492.7,390.9 494.6,391.9 496.5,392.8 498.4,392.4 500.3,393.8 502.1,395.3 504.0,396.0 505.9,395.5 507.8,396.3 509.7,397.7 511.6,397.8 513.4,398.8 515.3,399.3 517.2,401.1 519.1,402.0 521.0,402.9 522.9,402.3 524.7,404.0 526.6,404.6 528.5,404.3 530.4,406.3 532.3,407.0 534.2,406.2 536.0,407.9 537.9,407.4 539.8,408.0 541.7,409.4 543.6,409.5 545.5,408.8 547.4,409.7 549.2,410.2 551.1,410.4 553.0,410.7 554.9,411.5 556.8,412.9 558.7,412.4 560.6,414.1 562.5,414.6 564.4,414.4 566.3,415.5 568.2,416.5 570.0,416.8 571.9,416.4 573.8,418.5 575.7,418.5 577.6,419.2 579.5,418.0 581.4,418.6 583.3,418.6 585.1,420.3 587.0,419.9 588.9,420.3 590.8,421.5 592.7,423.2 594.5,423.8 596.4,423.6 598.3,424.2 600.2,426.3 602.1,426.5 603.9,427.5 605.8,427.2 607.7,427.8 609.6,429.6 611.5,429.8 613.3,429.7 615.2,431.8 617.1,431.7 619.0,432.4 620.9,431.5 622.8,433.0 624.7,431.6 626.5,433.0 628.4,432.1 630.3,431.9 632.2,432.3 634.1,433.1 636.0,432.0 637.9,431.8 639.8,432.7 641.7,432.4 643.5,432.5 645.1,433.0 646.6,433.2 648.1,434.0 649.6,434.7 651.2,435.2 652.8,436.5 654.8,436.0 656.9,436.7 659.1,436.5 661.3,437.1 663.5,436.8 665.7,437.6 667.8,437.5 670.0,439.3 672.1,439.4 674.2,439.2 676.4,440.2 678.5,441.4 680.6,440.3 682.8,441.9 684.9,441.5 687.1,441.9 689.2,442.8 691.4,442.2 693.5,442.5 695.7,442.9 697.8,443.4 699.9,442.3 702.1,443.2 704.2,443.1 706.4,443.1 708.5,442.9 710.7,443.1 712.8,442.9 715.0,443.3 717.1,443.4 719.2,444.9 721.4,444.2 723.5,444.3 725.6,444.4 727.8,446.0 729.9,446.4 732.0,446.3 734.2,445.9 736.4,446.1 738.5,446.5 740.7,447.1 742.8,446.9 744.9,447.8 747.1,447.9 749.2,449.6 751.3,450.1 753.5,449.8 755.6,449.6 757.7,451.3 759.9,450.5 762.0,451.0 764.2,450.7 766.3,451.7 768.5,452.2 770.6,452.5 772.8,452.1 774.9,452.9 777.0,452.1 779.2,452.8 781.3,452.7 783.4,453.4 785.6,452.9 787.8,453.0 789.9,453.7 792.1,453.8 794.2,454.7 796.3,454.8 798.5,455.6 800.6,455.8 802.7,456.2 804.9,456.9 807.0,456.3 809.1,456.5 811.3,457.9 813.5,456.7 815.6,457.9 817.8,458.1 819.9,457.3 822.0,459.0 824.2,459.5 826.3,459.5 828.4,460.1 830.6,460.6 832.7,459.8 834.8,460.8 837.0,461.1 839.1,462.0 841.2,462.2 843.4,462.6 845.5,462.6 847.7,463.6 849.9,463.9 852.2,464.5 854.3,464.3 856.4,464.4 858.4,464.8 859.8,465.3 861.1,464.7 862.4,465.9 863.6,465.2 864.8,465.1 866.1,464.7 875.1,468.1 876.5,500.0 877.0,548.0"/>
</g>
<path d="M75.25 4.8H968.7V606.6H75.25Z" fill="none" stroke="#000" stroke-width="5.2" stroke-linejoin="miter"/>
<g stroke="#000" stroke-width="5.1" stroke-linecap="butt">
<line x1="111.7" y1="606" x2="111.7" y2="619.0"/>
<line x1="175.5" y1="606" x2="175.5" y2="613.0"/>
<line x1="239.3" y1="606" x2="239.3" y2="619.0"/>
<line x1="303.1" y1="606" x2="303.1" y2="613.0"/>
<line x1="366.9" y1="606" x2="366.9" y2="619.0"/>
<line x1="430.7" y1="606" x2="430.7" y2="613.0"/>
<line x1="494.5" y1="606" x2="494.5" y2="619.0"/>
<line x1="558.3" y1="606" x2="558.3" y2="613.0"/>
<line x1="622.1" y1="606" x2="622.1" y2="619.0"/>
<line x1="685.9" y1="606" x2="685.9" y2="613.0"/>
<line x1="749.7" y1="606" x2="749.7" y2="619.0"/>
<line x1="813.5" y1="606" x2="813.5" y2="613.0"/>
<line x1="877.3" y1="606" x2="877.3" y2="619.0"/>
<line x1="941.1" y1="606" x2="941.1" y2="613.0"/>
</g>
<g font-size="31.5" fill="#000">
<text transform="translate(111.7,652) scale(0.98,1.02)" text-anchor="middle">200</text>
<text transform="translate(239.3,652) scale(0.98,1.02)" text-anchor="middle">300</text>
<text transform="translate(366.9,652) scale(0.98,1.02)" text-anchor="middle">400</text>
<text transform="translate(494.5,652) scale(0.98,1.02)" text-anchor="middle">500</text>
<text transform="translate(622.1,652) scale(0.98,1.02)" text-anchor="middle">600</text>
<text transform="translate(749.7,652) scale(0.98,1.02)" text-anchor="middle">700</text>
<text transform="translate(877.3,652) scale(0.98,1.02)" text-anchor="middle">800</text>
</g>
<text transform="translate(521.2,706.8) scale(1,1.04)" font-size="34" text-anchor="middle" fill="#000">Wavelength (nm)</text>
<text transform="translate(28.9,280) rotate(-90) scale(1,1.04)" font-size="34" text-anchor="middle" fill="#000">Absorbance (a.u.)</text>
<g stroke-width="5" stroke-linecap="round">
<line x1="681" y1="28.2" x2="758" y2="28.2" stroke="#000"/>
<line x1="681" y1="70.8" x2="758" y2="70.8" stroke="#f00"/>
<line x1="681" y1="113.6" x2="758" y2="113.6" stroke="#00f"/>
</g>
<g font-size="34" fill="#000">
<text transform="translate(767,40.8) scale(1,1.04)">GQDs</text>
<text transform="translate(767,82.8) scale(1,1.04)">g-C3N4</text>
<text transform="translate(767,125.8) scale(1,1.04)">GQDs\C3N4</text>
</g>
</svg>
</body></html>
